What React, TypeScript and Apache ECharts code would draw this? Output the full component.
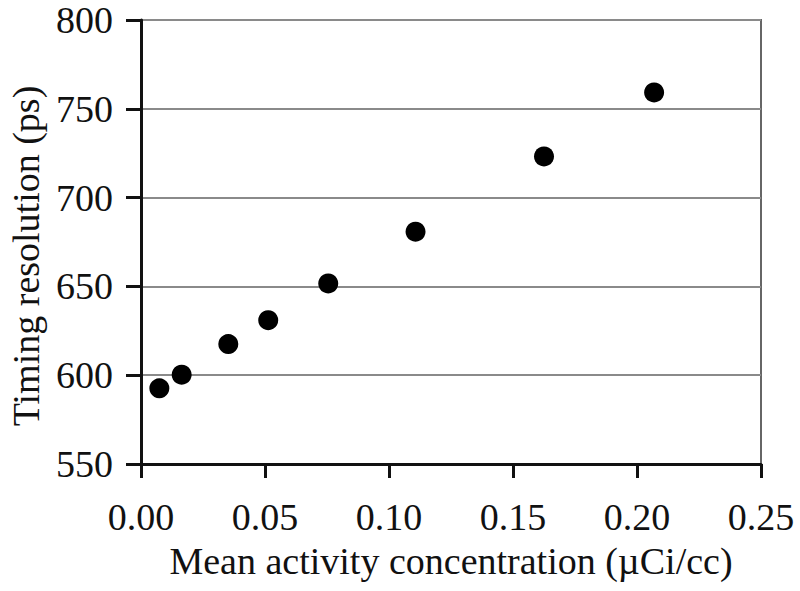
import React, { useEffect, useRef } from "react";
import * as echarts from "echarts";

const activity = [0.0074, 0.0164, 0.0352, 0.0513, 0.0755, 0.1107, 0.1625, 0.2069];
const timing = [592.6, 600.3, 617.5, 631, 651.7, 680.8, 723.2, 759.2];
const xTitle = "Mean activity concentration (\u00b5Ci/cc)";
const yTitle = "Timing resolution (ps)";

export default function App() {
  const ref = useRef<HTMLDivElement>(null);
  useEffect(() => {
    const chart = echarts.init(ref.current!, null, { renderer: "svg" });
    const font = "'Liberation Serif', 'Times New Roman', serif";
    chart.setOption({
      animation: false,
      backgroundColor: "#fff",
      grid: {
        left: 141, right: 39, top: 20, bottom: 127,
        show: true, borderColor: "#666", borderWidth: 2,
        outerBoundsMode: "none", containLabel: false,
      },
      xAxis: {
        type: "value", min: 0, max: 0.25, interval: 0.05,
        name: xTitle, nameLocation: "middle", nameGap: 78,
        nameTextStyle: { fontFamily: font, fontSize: 38, color: "#111" },
        axisLine: { show: true, lineStyle: { color: "#111", width: 3 } },
        axisTick: { show: true, length: 14, lineStyle: { color: "#111", width: 3 } },
        axisLabel: { fontFamily: font, fontSize: 38, color: "#111", margin: 34, formatter: (v: number) => v.toFixed(2) },
        splitLine: { show: false },
      },
      yAxis: {
        type: "value", min: 550, max: 800, interval: 50,
        name: yTitle, nameLocation: "middle", nameGap: 96, nameRotate: 90,
        nameTextStyle: { fontFamily: font, fontSize: 38, color: "#111", padding: [0, 28, 0, 0] },
        axisLine: { show: true, lineStyle: { color: "#111", width: 3 } },
        axisTick: { show: true, length: 15, lineStyle: { color: "#111", width: 3 } },
        axisLabel: { fontFamily: font, fontSize: 38, color: "#111", margin: 28 },
        splitLine: { show: true, lineStyle: { color: "#8a8a8a", width: 2 } },
      },
      series: [{
        type: "scatter",
        data: activity.map((x, i) => [x, timing[i]]),
        symbol: "circle", symbolSize: 20,
        itemStyle: { color: "#000", opacity: 1 },
      }],
    });
    return () => chart.dispose();
  }, []);
  return <div ref={ref} style={{ width: 800, height: 591, position: "absolute", left: 0, top: 0 }} />;
}
